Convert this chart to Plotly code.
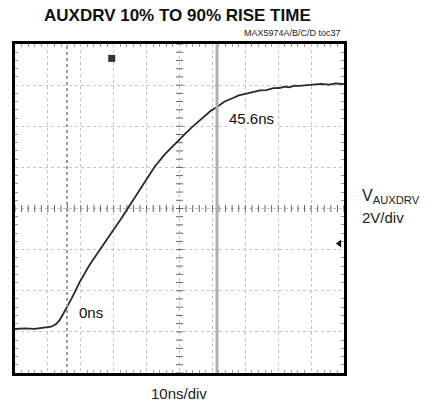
import numpy as np
import plotly.graph_objects as go

# Scope capture of AUXDRV rising edge (10 ns/div, 2 V/div)
time_ns = [0, 3, 6, 9, 11, 12.5, 13.6, 14.8, 15.8, 17.3, 19.7, 22.7, 25.8, 27.9,
           30.3, 32.4, 34.8, 37.9, 40, 42.4, 45.5, 48, 50, 52, 53.9, 55.8, 57.6,
           59.5, 61.4, 63.6, 66.1, 68, 69.7, 71.5, 72.7, 74.5, 76.4, 78.5, 80.3,
           82, 83.3, 85, 86.4, 88.5, 90.9, 93, 95.5, 97.5, 100]
vout_v = [2.14, 2.17, 2.15, 2.2, 2.25, 2.38, 2.58, 2.92, 3.21, 3.65, 4.43, 5.26,
          5.99, 6.47, 7.06, 7.54, 8.13, 8.88, 9.45, 10.02, 10.63, 11.05, 11.34,
          11.68, 11.97, 12.25, 12.51, 12.75, 12.94, 13.19, 13.36, 13.5, 13.56,
          13.64, 13.67, 13.74, 13.76, 13.85, 13.86, 13.93, 13.89, 13.98, 13.96,
          14.0, 14.01, 14.06, 14.02, 14.08, 14.05]

cursor_start_ns = 15.8      # 10% point
rise_time_ns = 45.6         # 10% -> 90%
trigger_pos_ns = 29.4
ground_marker_v = 6.3

X_RANGE = [0, 100]
Y_RANGE = [0, 16]
FONT = "Liberation Sans, Arial"

fig = go.Figure()

# Center-axis graduation ticks
xc = np.arange(0, 100.01, 2)
yc = np.arange(0, 16.01, 0.4)
fig.add_trace(go.Scatter(x=xc, y=np.full_like(xc, 8.0), mode="markers",
                         marker=dict(symbol="line-ns", size=5,
                                     line=dict(width=1, color="#666")),
                         hoverinfo="skip", showlegend=False))
fig.add_trace(go.Scatter(x=np.full_like(yc, 50.0), y=yc, mode="markers",
                         marker=dict(symbol="line-ew", size=5,
                                     line=dict(width=1, color="#666")),
                         hoverinfo="skip", showlegend=False))

# Cursors
fig.add_vline(x=cursor_start_ns, line=dict(color="#999", width=2, dash="dot"))
fig.add_vline(x=cursor_start_ns + rise_time_ns, line=dict(color="#b0b0b0", width=3))

# Waveform
fig.add_trace(go.Scatter(x=time_ns, y=vout_v, mode="lines",
                         line=dict(color="#2a2a2a", width=1.8),
                         showlegend=False))

# Trigger and channel markers
fig.add_trace(go.Scatter(x=[trigger_pos_ns], y=[15.3], mode="markers",
                         marker=dict(symbol="square", size=7, color="#333"),
                         showlegend=False))
fig.add_trace(go.Scatter(x=[98.6], y=[ground_marker_v], mode="markers",
                         marker=dict(symbol="triangle-left", size=7, color="#111"),
                         showlegend=False))

# Cursor labels
fig.add_annotation(x=cursor_start_ns + 3.0, y=2.92, text="0ns", showarrow=False,
                   xanchor="left", yanchor="middle", bgcolor="white", borderpad=1,
                   font=dict(family=FONT, size=15, color="#111"))
fig.add_annotation(x=cursor_start_ns + rise_time_ns + 3.0, y=12.4,
                   text=f"{rise_time_ns}ns", showarrow=False,
                   xanchor="left", yanchor="middle", bgcolor="white", borderpad=1,
                   font=dict(family=FONT, size=15, color="#111"))

# Titles and scale labels
fig.add_annotation(xref="paper", yref="paper", x=0.495, y=1.088,
                   text="<b>AUXDRV 10% TO 90% RISE TIME</b>", showarrow=False,
                   xanchor="center", yanchor="middle",
                   font=dict(family=FONT, size=17, color="#111"))
fig.add_annotation(xref="paper", yref="paper", x=0.997, y=1.033,
                   text="MAX5974A/B/C/D toc37", showarrow=False,
                   xanchor="right", yanchor="middle",
                   font=dict(family=FONT, size=9, color="#222"))
fig.add_annotation(xref="paper", yref="paper", x=1.049, y=0.536,
                   text="V<sub>AUXDRV</sub>", showarrow=False,
                   xanchor="left", yanchor="middle",
                   font=dict(family=FONT, size=16, color="#222"))
fig.add_annotation(xref="paper", yref="paper", x=1.049, y=0.473,
                   text="2V/div", showarrow=False,
                   xanchor="left", yanchor="middle",
                   font=dict(family=FONT, size=15, color="#222"))
fig.add_annotation(xref="paper", yref="paper", x=0.498, y=-0.061,
                   text="10ns/div", showarrow=False,
                   xanchor="center", yanchor="middle",
                   font=dict(family=FONT, size=15, color="#222"))

axis_common = dict(showline=True, linewidth=3, linecolor="black",
                   mirror="allticks", showticklabels=False, ticks="",
                   showgrid=True, gridcolor="#c4c4c4", gridwidth=1, griddash="dot",
                   zeroline=False, fixedrange=True)
fig.update_xaxes(range=X_RANGE, dtick=10, tick0=0,
                 minor=dict(dtick=2, ticks="inside", ticklen=3,
                            tickcolor="#999", showgrid=False),
                 **axis_common)
fig.update_yaxes(range=Y_RANGE, dtick=2, tick0=0,
                 minor=dict(dtick=0.4, ticks="inside", ticklen=3,
                            tickcolor="#999", showgrid=False),
                 **axis_common)

fig.update_layout(width=435, height=406,
                  margin=dict(l=15, r=91, t=44, b=33),
                  paper_bgcolor="white", plot_bgcolor="white",
                  showlegend=False)

fig.write_html("out.html")
